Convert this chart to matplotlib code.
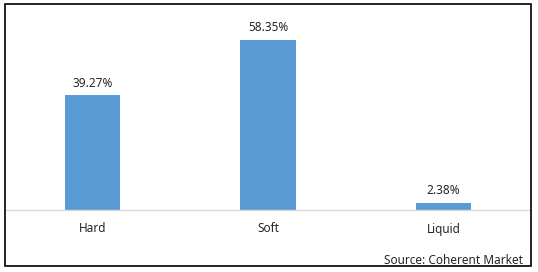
import matplotlib
matplotlib.use("Agg")
import matplotlib.pyplot as plt
from matplotlib.patches import Rectangle

categories = ["Hard", "Soft", "Liquid"]
shares = [39.27, 58.35, 2.38]
labels = ["39.27%", "58.35%", "2.38%"]

plt.rcParams['font.family'] = ['Noto Sans', 'DejaVu Sans']

W, H = 538, 272
fig = plt.figure(figsize=(W / 100, H / 100), dpi=100)

# outer frame around the whole chart
fig.patches.append(Rectangle((5 / W, 1 - 266 / H), 526 / W, 262 / H,
                             transform=fig.transFigure, fill=False,
                             edgecolor='black', linewidth=1.2))

# plot area: x 5..531 px, baseline at y=210 px
ax = fig.add_axes([5 / W, 1 - 210 / H, 526 / W, 205 / H])
x = range(len(categories))
ax.bar(x, shares, width=0.315, color='#5b9bd5')
ax.set_xlim(-0.5, 2.5)
ax.set_ylim(0, 70.2)

for i, v in enumerate(shares):
    ax.annotate(labels[i], (i, v), xytext=(0, 4), textcoords='offset points',
                ha='center', va='bottom', fontsize=8.5, color='#262626')

for s in ['top', 'left', 'right']:
    ax.spines[s].set_visible(False)
ax.spines['bottom'].set_color('#d9d9d9')
ax.spines['bottom'].set_linewidth(1.0)
ax.set_yticks([])
ax.set_xticks(list(x))
ax.set_xticklabels(categories, fontsize=8.5, color='#262626')
ax.tick_params(axis='x', length=0, pad=9)

fig.text(523 / W, 1 - 264 / H, "Source: Coherent Market", ha='right',
         va='baseline', fontsize=8.5, color='#262626')

fig.savefig("out.png", dpi=100)
